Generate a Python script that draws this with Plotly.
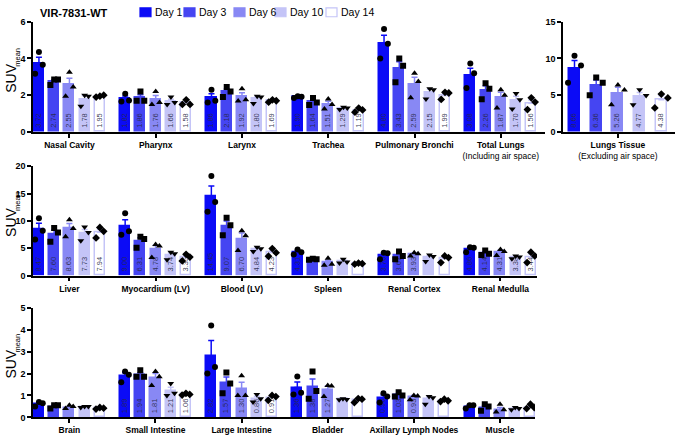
import numpy as np
import plotly.graph_objects as go

W, H = 677, 438
FONT = "Arial, Liberation Sans, sans-serif"

DAYS = ["Day 1", "Day 3", "Day 6", "Day 10", "Day 14"]
DAY_COLORS = ["#0b0bf6", "#4545f2", "#8888f4", "#c4c4f7", "#ffffff"]
DAY_EDGES = ["#0b0bf6", "#4545f2", "#8888f4", "#c4c4f7", "#c4c4f7"]
DAY_SYMBOLS = ["circle", "square", "triangle-up", "triangle-down", "diamond"]

# ---------------- top-left panel ----------------
top_groups = ["Nasal Cavity", "Pharynx", "Larynx", "Trachea", "Pulmonary Bronchi", "Total Lungs"]
top_sub = ["", "", "", "", "", "(Including air space)"]
top_means = [
    [3.72, 2.74, 2.55, 1.78, 1.95],
    [1.82, 1.86, 1.76, 1.66, 1.58],
    [1.86, 2.18, 1.92, 1.80, 1.69],
    [1.90, 1.64, 1.51, 1.29, 1.19],
    [4.80, 3.43, 2.59, 2.15, 1.99],
    [3.08, 2.26, 1.87, 1.70, 1.56],
]
top_points = [
    [[4.35, 3.65, 3.17], [2.85, 2.85, 2.55], [3.25, 2.45, 1.95], [2.0, 1.95, 1.4], [1.95, 2.0, 1.9]],
    [[2.08, 1.72, 1.66], [2.2, 1.7, 1.7], [2.2, 1.6, 1.5], [1.9, 1.6, 1.5], [1.75, 1.5, 1.5]],
    [[2.3, 1.7, 1.6], [2.45, 2.2, 1.9], [2.35, 1.75, 1.68], [1.95, 1.9, 1.55], [1.75, 1.7, 1.62]],
    [[1.95, 1.92, 1.85], [1.85, 1.6, 1.47], [1.8, 1.5, 1.25], [1.35, 1.3, 1.22], [1.3, 1.2, 1.08]],
    [[5.6, 4.8, 4.0], [4.0, 3.6, 2.7], [3.19, 2.74, 1.86], [2.35, 2.3, 1.8], [2.16, 2.12, 1.77]],
    [[3.72, 3.19, 2.39], [2.65, 2.35, 1.78], [2.3, 2.0, 1.3], [2.1, 1.75, 1.25], [1.86, 1.63, 1.22]],
]
top_labelled = [[1] * 5] * 6

# ---------------- top-right panel ----------------
lt_groups = ["Lungs Tissue"]
lt_sub = ["(Excluding air space)"]
lt_means = [[8.66, 6.36, 5.26, 4.77, 4.38]]
lt_points = [[[10.37, 9.05, 6.7], [7.4, 6.7, 5.0], [6.4, 5.7, 3.7], [5.74, 4.95, 3.7], [5.16, 4.63, 3.27]]]
lt_labelled = [[1] * 5]

# ---------------- middle panel ----------------
mid_groups = ["Liver", "Myocardium (LV)", "Blood (LV)", "Spleen", "Renal Cortex", "Renal Medulla"]
mid_means = [
    [8.47, 7.60, 8.63, 7.73, 7.94],
    [9.00, 6.31, 4.78, 3.74, 3.33],
    [14.45, 9.07, 6.70, 4.84, 4.23],
    [4.31, 3.00, 2.40, 2.60, 2.20],
    [3.76, 3.67, 3.93, 3.30, 3.10],
    [4.86, 4.14, 4.31, 3.38, 3.44],
]
mid_points = [
    [[10.5, 8.2, 6.6], [8.7, 7.9, 6.2], [10.2, 8.6, 7.1], [8.9, 7.9, 6.4], [8.8, 8.1, 6.9]],
    [[11.4, 8.1, 7.5], [7.1, 6.7, 5.1], [5.7, 5.4, 3.3], [4.3, 4.0, 2.9], [3.9, 3.4, 2.7]],
    [[18.2, 13.45, 11.66], [10.6, 9.2, 7.4], [8.2, 7.3, 4.6], [5.2, 4.9, 4.4], [4.95, 4.2, 3.55]],
    [[4.8, 4.3, 3.85], [3.1, 3.0, 2.9], [3.2, 2.1, 1.9], [3.0, 2.5, 2.3], [2.3, 2.2, 2.1]],
    [[4.2, 4.1, 3.0], [4.4, 3.6, 3.0], [4.2, 4.0, 3.6], [3.8, 3.5, 2.6], [3.6, 3.3, 2.4]],
    [[5.2, 5.1, 4.3], [4.6, 4.0, 3.8], [4.8, 4.4, 3.7], [3.6, 3.4, 3.1], [4.3, 3.6, 2.4]],
]
mid_labelled = [[1] * 5, [1] * 5, [1] * 5, [1, 0, 0, 0, 0], [1, 1, 1, 0, 0], [1] * 5]

# ---------------- bottom panel ----------------
bot_groups = ["Brain", "Small Intestine", "Large Intestine", "Bladder", "Axillary Lymph Nodes", "Muscle"]
bot_means = [
    [0.60, 0.50, 0.45, 0.48, 0.42],
    [1.89, 1.94, 1.81, 1.21, 1.06],
    [2.82, 1.57, 1.30, 0.86, 0.91],
    [1.36, 1.38, 1.27, 0.82, 0.78],
    [0.90, 1.03, 0.93, 0.82, 0.77],
    [0.50, 0.45, 0.35, 0.40, 0.45],
]
bot_points = [
    [[0.7, 0.65, 0.5], [0.55, 0.55, 0.4], [0.55, 0.5, 0.4], [0.5, 0.5, 0.45], [0.45, 0.42, 0.38]],
    [[2.1, 1.95, 1.6], [2.15, 1.85, 1.85], [2.1, 1.85, 1.45], [1.55, 1.1, 1.0], [1.1, 1.05, 1.02]],
    [[4.2, 2.3, 2.0], [2.05, 1.55, 1.1], [1.9, 1.0, 1.0], [1.05, 0.85, 0.7], [1.0, 0.95, 0.78]],
    [[1.87, 1.13, 1.05], [2.1, 1.2, 0.85], [1.46, 1.43, 0.95], [0.85, 0.82, 0.8], [0.86, 0.83, 0.68]],
    [[1.1, 0.95, 0.68], [1.15, 1.0, 0.95], [1.0, 0.98, 0.8], [0.95, 0.9, 0.6], [0.83, 0.76, 0.72]],
    [[0.55, 0.55, 0.4], [0.6, 0.5, 0.3], [0.6, 0.35, 0.25], [0.45, 0.4, 0.35], [0.6, 0.45, 0.4]],
]
bot_labelled = [[0] * 5, [1] * 5, [1] * 5, [1, 1, 1, 0, 0], [1, 1, 1, 0, 0], [0] * 5]

# legend swatch left edges (px) – layout only
LEGEND_X = [140, 184, 234, 275, 326]

GROUP_PITCH = 5.66
JITTER = [0.0, 0.25, -0.25]

fig = go.Figure()


def add_panel(groups, means, points, labelled, ax, bar_w, jit_scale):
    xa = "x" + ("" if ax == 1 else str(ax))
    ya = "y" + ("" if ax == 1 else str(ax))
    for d in range(5):
        xs = [g * GROUP_PITCH + d for g in range(len(groups))]
        ys = [means[g][d] for g in range(len(groups))]
        pts = [np.array(points[g][d]) for g in range(len(groups))]
        sem = [float(p.std(ddof=1) / np.sqrt(len(p))) for p in pts]
        txt = ["%.2f" % means[g][d] if labelled[g][d] else None for g in range(len(groups))]
        fig.add_trace(go.Bar(
            x=xs, y=ys, width=bar_w, name=DAYS[d], showlegend=False,
            marker=dict(color=DAY_COLORS[d], line=dict(color=DAY_EDGES[d], width=1.5)),
            error_y=dict(type="data", symmetric=False, array=sem, arrayminus=[0] * len(sem),
                         color=DAY_EDGES[d], thickness=1.5, width=3),
            text=txt, textposition="inside", insidetextanchor="start", textangle=-90,
            textfont=dict(size=7.5, family=FONT, color="rgba(40,40,70,0.9)"),
            xaxis=xa, yaxis=ya, hoverinfo="skip",
        ))
    for d in range(5):
        px_, py_ = [], []
        for g in range(len(groups)):
            for k, v in enumerate(points[g][d]):
                px_.append(g * GROUP_PITCH + d + JITTER[k] * jit_scale)
                py_.append(v)
        fig.add_trace(go.Scatter(
            x=px_, y=py_, mode="markers", showlegend=False,
            marker=dict(symbol=DAY_SYMBOLS[d], color="black", size=6, line=dict(width=0)),
            xaxis=xa, yaxis=ya, hoverinfo="skip",
        ))


add_panel(top_groups, top_means, top_points, top_labelled, 1, 0.66, 1.0)
add_panel(lt_groups, lt_means, lt_points, lt_labelled, 2, 0.5, 1.2)
add_panel(mid_groups, mid_means, mid_points, mid_labelled, 3, 0.66, 1.0)
add_panel(bot_groups, bot_means, bot_points, bot_labelled, 4, 0.66, 1.0)


def tick_text(groups, subs=None):
    out = []
    for i, g in enumerate(groups):
        s = "<b>%s</b>" % g
        if subs and subs[i]:
            s += "<br>" + subs[i]
        out.append(s)
    return out


def xdom(a, b):
    return [a / W, b / W]


def ydom(top, bottom):
    return [1 - bottom / H, 1 - top / H]


axis_common = dict(showline=True, linecolor="black", linewidth=1.5, ticks="outside", ticklen=4,
                   tickwidth=1.5, tickcolor="black", showgrid=False, zeroline=False,
                   tickfont=dict(size=8.5, family=FONT, color="black"))


def xaxis(domain, rng, groups, subs, anchor):
    return dict(axis_common, domain=domain, range=rng, anchor=anchor,
                tickvals=[g * GROUP_PITCH + 2 for g in range(len(groups))],
                ticktext=tick_text(groups, subs))


def yaxis(domain, rng, dtick, anchor):
    d = dict(axis_common, domain=domain, range=rng, anchor=anchor, dtick=dtick, tick0=0)
    d["tickfont"] = dict(size=9, family=FONT, color="black")
    d["tickprefix"] = "<b>"
    d["ticksuffix"] = "</b>"
    return d


fig.update_layout(
    width=W, height=H, autosize=False,
    margin=dict(l=0, r=0, t=0, b=0),
    paper_bgcolor="white", plot_bgcolor="white",
    font=dict(family=FONT, color="black"),
    bargap=0, barmode="overlay", showlegend=False,
    uniformtext=dict(minsize=7.5, mode="show"),
    xaxis=xaxis(xdom(33, 545), [-0.39, 33.2], top_groups, top_sub, "y"),
    yaxis=yaxis(ydom(17, 130), [0, 6], 2, "x"),
    xaxis2=dict(axis_common, domain=xdom(563, 675), range=[-0.53, 4.63], anchor="y2",
                tickvals=[2], ticktext=tick_text(lt_groups, lt_sub)),
    yaxis2=yaxis(ydom(17, 130), [0, 15], 5, "x2"),
    xaxis3=xaxis(xdom(33, 537), [-0.39, 32.7], mid_groups, None, "y3"),
    yaxis3=yaxis(ydom(165, 277), [0, 20], 5, "x3"),
    xaxis4=xaxis(xdom(33, 535), [-0.39, 32.6], bot_groups, None, "y4"),
    yaxis4=yaxis(ydom(310, 422), [0, 5], 1, "x4"),
)

annotations = [
    dict(text="<b>VIR-7831-WT</b>", x=38 / W, y=1 - 8 / H, xref="paper", yref="paper",
         xanchor="left", yanchor="middle", showarrow=False, font=dict(size=11, family=FONT)),
]
# y-axis titles: "SUV" with a subscript "mean"
for top, bottom in [(17, 130), (165, 277), (310, 422)]:
    c = (top + bottom) / 2
    annotations.append(dict(text="SUV", x=11 / W, y=1 - (c + 1) / H,
                            xref="paper", yref="paper", xanchor="center", yanchor="middle",
                            textangle=-90, showarrow=False, font=dict(size=14, family=FONT)))
    annotations.append(dict(text="mean", x=17.5 / W, y=1 - (c - 20) / H,
                            xref="paper", yref="paper", xanchor="center", yanchor="middle",
                            textangle=-90, showarrow=False, font=dict(size=7.5, family=FONT)))

# legend (swatches + labels)
shapes = []
for d, lx in enumerate(LEGEND_X):
    shapes.append(dict(type="rect", xref="paper", yref="paper",
                       x0=lx / W, x1=(lx + 11) / W, y0=1 - 12 / H, y1=1 - 3 / H,
                       fillcolor=DAY_COLORS[d], line=dict(color=DAY_EDGES[d], width=1.2)))
    annotations.append(dict(text=DAYS[d], x=(lx + 13) / W, y=1 - 7.5 / H, xref="paper", yref="paper",
                            xanchor="left", yanchor="middle", showarrow=False,
                            font=dict(size=10.5, family=FONT)))
fig.update_layout(annotations=annotations, shapes=shapes)

fig.write_html("out.html", config={"displayModeBar": False},
               post_script="document.body.style.margin='0px';")
